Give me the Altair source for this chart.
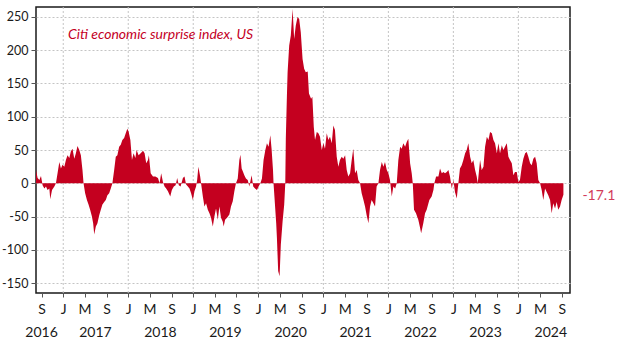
import altair as alt
import pandas as pd

# ---- data ----
dates = [
    "2016-08-01", "2016-08-10", "2016-08-20", "2016-08-29", "2016-09-07", "2016-09-17", "2016-09-26",
    "2016-10-05", "2016-10-15", "2016-10-20", "2016-10-30", "2016-11-12", "2016-11-21", "2016-11-30",
    "2016-12-10", "2016-12-19", "2016-12-28",
    "2017-01-07", "2017-01-16", "2017-01-25", "2017-02-04", "2017-02-13", "2017-02-22", "2017-03-04",
    "2017-03-13", "2017-03-22", "2017-04-01", "2017-04-10", "2017-04-19", "2017-04-25", "2017-05-04",
    "2017-05-14", "2017-05-23", "2017-06-01", "2017-06-11", "2017-06-18", "2017-06-24", "2017-07-03",
    "2017-07-12", "2017-07-22", "2017-07-31", "2017-08-09", "2017-08-19", "2017-08-28", "2017-09-06",
    "2017-09-16", "2017-09-25", "2017-10-04", "2017-10-14", "2017-10-23", "2017-11-01", "2017-11-11",
    "2017-11-20", "2017-11-29", "2017-12-09", "2017-12-18", "2017-12-27",
    "2018-01-03", "2018-01-13", "2018-01-22", "2018-01-31", "2018-02-10", "2018-02-17", "2018-02-28",
    "2018-03-12", "2018-03-25", "2018-04-03", "2018-04-12", "2018-04-22", "2018-04-27", "2018-05-07",
    "2018-05-20", "2018-06-02", "2018-06-17", "2018-06-26", "2018-07-05", "2018-07-15", "2018-07-24",
    "2018-08-02", "2018-08-12", "2018-08-25", "2018-09-03", "2018-09-14", "2018-09-24", "2018-10-03",
    "2018-10-12", "2018-10-22", "2018-11-04", "2018-11-13", "2018-11-22", "2018-12-02", "2018-12-11",
    "2018-12-20", "2018-12-30",
    "2019-01-08", "2019-01-17", "2019-01-23", "2019-01-30", "2019-02-09", "2019-02-14", "2019-02-24",
    "2019-03-05", "2019-03-14", "2019-03-24", "2019-04-02", "2019-04-11", "2019-04-21", "2019-04-30",
    "2019-05-09", "2019-05-19", "2019-05-28", "2019-06-06", "2019-06-16", "2019-06-21", "2019-06-29",
    "2019-07-10", "2019-07-23", "2019-08-01", "2019-08-11", "2019-08-20", "2019-08-29", "2019-09-08",
    "2019-09-17", "2019-09-23", "2019-09-30", "2019-10-08", "2019-10-15", "2019-10-24", "2019-11-03",
    "2019-11-12", "2019-11-25", "2019-12-04", "2019-12-14", "2019-12-25",
    "2020-01-03", "2020-01-13", "2020-01-22", "2020-01-31", "2020-02-10", "2020-02-19", "2020-02-28",
    "2020-03-09", "2020-03-16", "2020-03-24", "2020-03-27", "2020-04-04", "2020-04-11", "2020-04-15",
    "2020-04-22", "2020-04-30", "2020-05-07", "2020-05-17", "2020-05-26", "2020-06-01", "2020-06-04",
    "2020-06-10", "2020-06-14", "2020-06-23", "2020-07-02", "2020-07-12", "2020-07-21", "2020-07-30",
    "2020-08-09", "2020-08-18", "2020-08-27", "2020-09-06", "2020-09-15", "2020-09-24", "2020-10-05",
    "2020-10-12", "2020-10-24", "2020-10-31", "2020-11-08", "2020-11-15", "2020-11-25", "2020-12-04",
    "2020-12-13", "2020-12-23",
    "2021-01-01", "2021-01-10", "2021-01-20", "2021-01-29", "2021-02-07", "2021-02-17", "2021-02-26",
    "2021-03-07", "2021-03-17", "2021-03-26", "2021-04-04", "2021-04-14", "2021-04-23", "2021-05-03",
    "2021-05-12", "2021-05-21", "2021-05-31", "2021-06-09", "2021-06-18", "2021-06-28", "2021-07-07",
    "2021-07-16", "2021-07-26", "2021-08-04", "2021-08-14", "2021-08-23", "2021-09-01", "2021-09-11",
    "2021-09-20", "2021-09-29", "2021-10-09", "2021-10-18", "2021-10-27", "2021-11-06", "2021-11-15",
    "2021-11-25", "2021-12-04", "2021-12-13", "2021-12-23",
    "2022-01-01", "2022-01-10", "2022-01-20", "2022-01-29", "2022-02-08", "2022-02-17", "2022-02-26",
    "2022-03-08", "2022-03-17", "2022-03-26", "2022-04-05", "2022-04-14", "2022-04-23", "2022-05-03",
    "2022-05-12", "2022-05-18", "2022-05-25", "2022-06-05", "2022-06-18", "2022-06-28", "2022-07-04",
    "2022-07-16", "2022-07-26", "2022-08-04", "2022-08-19", "2022-09-01", "2022-09-11", "2022-09-16",
    "2022-09-26", "2022-10-09", "2022-10-18", "2022-10-28", "2022-11-06", "2022-11-15", "2022-11-25",
    "2022-12-04", "2022-12-13", "2022-12-23",
    "2023-01-01", "2023-01-10", "2023-01-20", "2023-01-29", "2023-02-07", "2023-02-17", "2023-02-26",
    "2023-03-08", "2023-03-17", "2023-03-26", "2023-04-05", "2023-04-14", "2023-04-23", "2023-05-03",
    "2023-05-12", "2023-05-18", "2023-05-31", "2023-06-09", "2023-06-19", "2023-06-28", "2023-07-08",
    "2023-07-17", "2023-07-26", "2023-08-05", "2023-08-14", "2023-08-23", "2023-09-02", "2023-09-11",
    "2023-09-20", "2023-09-30", "2023-10-09", "2023-10-18", "2023-10-28", "2023-11-06", "2023-11-15",
    "2023-11-25", "2023-12-04", "2023-12-13", "2023-12-23",
    "2024-01-01", "2024-01-10", "2024-01-20", "2024-01-29", "2024-02-08", "2024-02-17", "2024-02-26",
    "2024-03-07", "2024-03-16", "2024-03-25", "2024-04-04", "2024-04-13", "2024-04-22", "2024-05-02",
    "2024-05-11", "2024-05-20", "2024-05-30", "2024-06-08", "2024-06-17", "2024-06-27", "2024-07-06",
    "2024-07-15", "2024-07-25", "2024-08-03", "2024-08-12", "2024-08-22", "2024-08-31", "2024-09-10",
]

values = [
    20, 8, 5, 11, -3, -8, -5,
    -10, -8, -24, -10, -5, 0, 15,
    32, 22, 28,
    25, 35, 42, 38, 48, 52, 37,
    45, 56, 50, 42, 20, 0, -15,
    -25, -32, -40, -50, -60, -77, -65,
    -60, -48, -40, -32, -28, -25, -18,
    -15, -8, 0, 20, 40, 42, 55,
    58, 65, 68, 75, 82,
    78, 65, 35, 45, 38, 50, 42,
    45, 49, 45, 30, 35, 42, 15,
    10, 10, 8, 0, 15, 2, -5,
    -8, -12, -20, -10, -5, -3, 8,
    -3, -5, 8, 10, -2, -5, -8,
    -15, -25,
    -12, -5, 5, 25, 10, 0, -20,
    -35, -30, -40, -45, -52, -65, -50,
    -38, -55, -35, -52, -58, -65, -55,
    -52, -47, -35, -27, -12, 0, 7,
    35, 43, 22, 17, 12, 7, 5,
    -5, 12, -5, -8, -10,
    -5, 0, 7, 35, 50, 60, 55,
    72, 52, 20, 0, -32, -60, -82,
    -132, -140, -92, -57, -32, 0, 67,
    130, 167, 207, 222, 262, 217, 237,
    250, 247, 227, 187, 172, 167, 168,
    135, 127, 130, 85, 65, 77, 75,
    70, 50,
    60, 52, 75, 65, 70, 60, 87,
    80, 40, 25, 35, 40, 37, 42,
    20, 10, 15, 35, 52, 15, 20,
    5, 0, -15, -25, -35, -48, -60,
    -35, -25, -30, -35, -5, 0, 20,
    32, 25, 32, 20,
    15, 5, -20, -5, -8, 0, 35,
    55, 52, 60, 55, 62, 67, 30,
    15, 0, -40, -45, -55, -67, -75,
    -60, -45, -40, -25, -20, -10, 0,
    10, 10, 22, 15, 17, 15, 17,
    20, 10, -8,
    5, -13, -23, 0, 22, 27, 35,
    45, 50, 60, 40, 30, 35, 20,
    10, 0, 35, 20, 25, 55, 70,
    65, 77, 75, 65, 60, 45, 60,
    45, 57, 50, 55, 60, 40, 35,
    30, 12, 17, 17,
    2, 5, 25, 37, 45, 47, 40,
    30, 27, 37, 40, 30, 5, 0,
    -10, -25, -8, -13, -18, -25, -45,
    -30, -38, -28, -40, -35, -25, -17.1,
]

y_ticks = [-150, -100, -50, 0, 50, 100, 150, 200, 250]
month_ticks = (
    ["2016-09-01"]
    + [f"{y}-{m:02d}-01" for y in range(2017, 2025) for m in (1, 5, 9)]
)
jan_gridlines = [f"{y}-01-01" for y in range(2017, 2025)]
year_labels = ["2016", "2017", "2018", "2019", "2020", "2021", "2022", "2023", "2024"]
year_label_dates = ["2016-09-01", "2017-07-01", "2018-07-01", "2019-07-01", "2020-07-01",
                    "2021-07-01", "2022-07-01", "2023-07-01", "2024-07-01"]
title_text = "Citi economic surprise index, US"
last_label = "-17.1"

RED = "#c4001f"
LABEL_RED = "#d23c5a"
GRID = "#c4c4c4"
FONT = "Lato"

df = pd.DataFrame({"date": pd.to_datetime(dates), "value": values})
last_df = pd.DataFrame({"date": [pd.to_datetime(dates[-1])], "value": [values[-1]], "label": [last_label]})
year_df = pd.DataFrame({"date": pd.to_datetime(year_label_dates), "label": year_labels})
grid_df = pd.DataFrame({"date": pd.to_datetime(jan_gridlines)})
title_df = pd.DataFrame({"t": [title_text]})


def dt(s):
    return alt.DateTime(year=int(s[:4]), month=int(s[5:7]), date=int(s[8:10]))


x_scale = alt.Scale(domain=[dt("2016-08-01"), dt("2024-10-17")])
y_scale = alt.Scale(domain=[-165, 265], nice=False, zero=False)

x_axis = alt.Axis(
    values=[dt(s) for s in month_ticks],
    labelExpr="substring(timeFormat(datum.value, '%b'), 0, 1)",
    title=None,
    grid=False,
    tickSize=4,
    tickColor="#555",
    labelFontSize=14,
    labelPadding=5,
    labelFlush=False,
    labelOverlap=False,
    domain=False,
)
y_axis = alt.Axis(
    values=y_ticks,
    title=None,
    grid=True,
    gridDash=[2, 2],
    gridColor=GRID,
    tickSize=5,
    tickColor="#555",
    labelFontSize=12.5,
    labelPadding=3,
    labelExpr="datum.value < 0 ? '-' + abs(datum.value) : '' + datum.value",
    domain=False,
)

vgrid = alt.Chart(grid_df).mark_rule(color=GRID, strokeDash=[2, 2], strokeWidth=1).encode(
    x=alt.X("date:T", scale=x_scale, axis=x_axis),
)

area = alt.Chart(df).mark_area(color=RED, clip=True).encode(
    x=alt.X("date:T", scale=x_scale, axis=x_axis),
    y=alt.Y("value:Q", scale=y_scale, axis=y_axis),
    y2=alt.datum(0),
)

last_text = alt.Chart(last_df).mark_text(
    align="left", baseline="middle", dx=19, dy=1, fontSize=14, color=LABEL_RED, font=FONT
).encode(
    x=alt.X("date:T", scale=x_scale, axis=x_axis),
    y=alt.Y("value:Q", scale=y_scale, axis=y_axis),
    text="label:N",
)

year_text = alt.Chart(year_df).mark_text(
    align="center", baseline="top", fontSize=14, color="#1a1a1a", font=FONT
).encode(
    x=alt.X("date:T", scale=x_scale, axis=x_axis),
    y=alt.value(319),
    text="label:N",
)

title = alt.Chart(title_df).mark_text(
    align="left", baseline="middle", fontSize=14, fontStyle="italic", color=RED, font=FONT
).encode(
    x=alt.value(32),
    y=alt.value(28),
    text="t:N",
)

chart = alt.layer(vgrid, area, last_text, year_text, title).properties(
    width=534,
    height=286,
    padding={"left": 36, "top": 7, "right": 49, "bottom": 49},
    autosize=alt.AutoSizeParams(type="none"),
    background="white",
).configure_view(
    stroke="#1a1a1a", strokeWidth=1.5
).configure_axis(
    labelFont=FONT, labelColor="#1a1a1a"
)

chart.save("out.html", embed_options={"renderer": "svg", "actions": False})
